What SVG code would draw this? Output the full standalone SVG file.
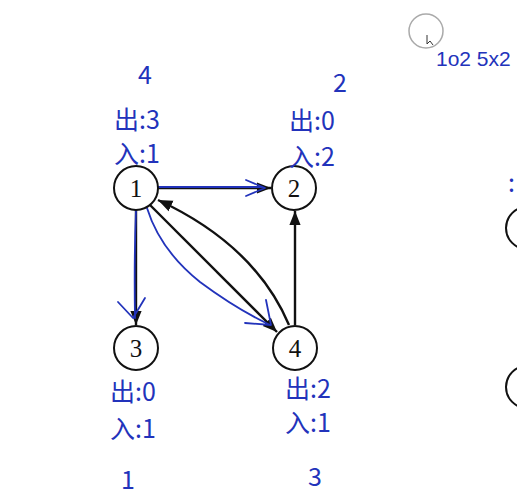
<svg xmlns="http://www.w3.org/2000/svg" width="517" height="499" viewBox="0 0 517 499">
<style>
.node circle{fill:#fff;stroke:#111;stroke-width:2}
.node text{font-family:"Liberation Serif",serif;font-size:25px;fill:#111;text-anchor:middle}
.edge{stroke:#111;stroke-width:2.4;fill:none}
.ink{stroke:#2233bb;stroke-width:1.8;fill:none;stroke-linecap:round;stroke-linejoin:round}
.hw{font-family:"Noto Sans CJK SC","Noto Sans",sans-serif;fill:#2233bb;font-size:25px}
</style>
<defs>
<marker id="ah" viewBox="0 0 10 10" refX="10" refY="5" markerWidth="6" markerHeight="6" orient="auto" markerUnits="strokeWidth">
<path d="M0,1 L10,5 L0,9 Z" fill="#111"/>
</marker>
</defs>
<rect width="517" height="499" fill="#fff"/>
<g id="connectors">
<line class="edge" x1="158" y1="188" x2="271" y2="188" marker-end="url(#ah)"/>
<line class="edge" x1="136" y1="210" x2="136" y2="325" marker-end="url(#ah)"/>
<line class="edge" x1="295" y1="325" x2="295" y2="211" marker-end="url(#ah)"/>
<line class="edge" x1="150" y1="205" x2="277" y2="332" marker-end="url(#ah)"/>
<path class="edge" d="M289 325 Q255 245 158 200" marker-end="url(#ah)"/>
<path class="ink" d="M158 187 L262 187"/>
<path class="ink" d="M246 180 L265 188 L246 196"/>
<path class="ink" d="M136 210 Q134 260 135 318"/>
<path class="ink" d="M118 302 L133 318 L145 298"/>
<path class="ink" d="M147 208 Q160 250 200 282 Q235 308 268 324"/>
<path class="ink" d="M245 323 L271 325 L266 300"/>
</g>
<g id="node1" class="node"><circle cx="136" cy="188" r="22"/><text x="136" y="197">1</text></g>
<g id="node2" class="node"><circle cx="294" cy="188" r="22"/><text x="294" y="197">2</text></g>
<g id="node3" class="node"><circle cx="136" cy="348" r="22"/><text x="136" y="357">3</text></g>
<g id="node4" class="node"><circle cx="295" cy="348" r="22"/><text x="295" y="357">4</text></g>
<g id="partial-nodes" class="node">
<circle cx="527" cy="228" r="21"/>
<circle cx="527" cy="387" r="21"/>
</g>
<g id="annotations">
<text class="hw" x="138" y="84" font-size="34">4</text>
<text class="hw" x="114" y="129">出:3</text>
<text class="hw" x="114" y="163">入:1</text>
<text class="hw" x="333" y="92" font-size="27">2</text>
<text class="hw" x="289" y="130" font-size="20">出:0</text>
<text class="hw" x="289" y="166" font-size="20">入:2</text>
<text class="hw" x="110" y="401">出:0</text>
<text class="hw" x="110" y="438">入:1</text>
<text class="hw" x="121" y="489" font-size="28">1</text>
<text class="hw" x="285" y="398">出:2</text>
<text class="hw" x="285" y="432">入:1</text>
<text class="hw" x="308" y="486" font-size="30">3</text>
<text x="436" y="66" font-family="Liberation Sans, sans-serif" font-size="21" fill="#2233bb">1o2 5x2</text>
<text class="hw" x="508" y="192" font-size="16">:</text>
</g>
<g id="cursor">
<circle cx="426" cy="31" r="17" fill="none" stroke="#aaa" stroke-width="1.5"/>
<path d="M427 35 L427 44 L430 41 L433 45" fill="#fff" stroke="#333" stroke-width="1"/>
</g>
</svg>
